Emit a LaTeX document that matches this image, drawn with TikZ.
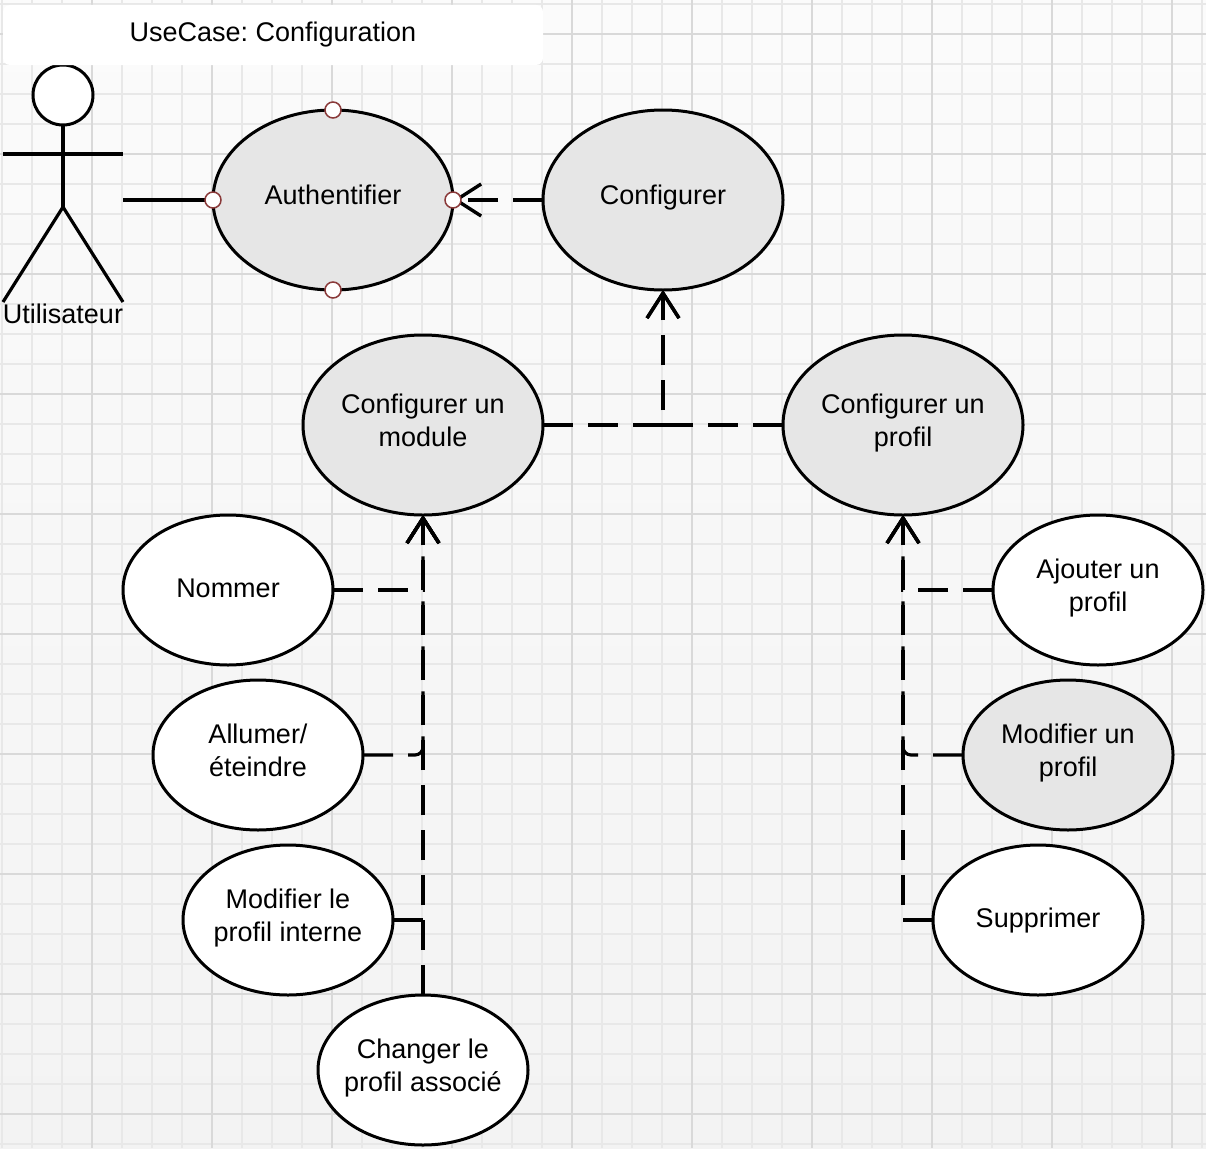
\documentclass[tikz,border=0pt]{standalone}
\usepackage{fontspec}
\setmainfont{Liberation Sans}
\usetikzlibrary{shapes.geometric,arrows.meta}
\frenchspacing
\definecolor{minorgrid}{HTML}{E8E8E8}
\definecolor{majorgrid}{HTML}{D9D9D9}
\definecolor{ucgray}{HTML}{E6E6E6}
\definecolor{portred}{HTML}{8A3A3A}
\definecolor{bgtop}{HTML}{FBFBFB}
\definecolor{bgbottom}{HTML}{F3F3F3}
\newcommand{\uctext}[2][-5pt]{\raisebox{#1}[0pt][0pt]{\makebox[0pt]{\begin{tabular}[c]{@{}c@{}}#2\end{tabular}}}}
\tikzset{
  ucase/.style={ellipse,draw=black,line width=3pt,fill=white,inner sep=0pt,outer sep=0pt,
    minimum width=210pt,minimum height=150pt,font=\fontsize{27}{33}\selectfont},
  ucbig/.style={ucase,minimum width=240pt,minimum height=180pt},
  ucgrayfill/.style={fill=ucgray},
  port/.style={circle,draw=portred,line width=1.5pt,fill=white,inner sep=0pt,outer sep=0pt,minimum size=16pt},
  stroke/.style={draw=black,line width=3.2pt},
  dep/.style={stroke,dash pattern=on 30pt off 15pt,-{Straight Barb[length=25pt,width=32pt,line width=3.4pt]}},
  plainlabel/.style={inner sep=0pt,font=\fontsize{27}{33}\selectfont}
}
\begin{document}
\begin{tikzpicture}[x=1pt,y=-1pt]
\useasboundingbox (0,0) rectangle (1206,1148);
\shade[top color=bgtop,bottom color=bgbottom] (0,0) rectangle (1206,1148);
% grid
\foreach \i in {0,...,40}{
  \pgfmathsetmacro{\gx}{2+30*\i}
  \draw[minorgrid,line width=2pt] (\gx,0) -- (\gx,1148);
}
\foreach \i in {0,...,38}{
  \pgfmathsetmacro{\gy}{3.75+30*\i}
  \draw[minorgrid,line width=2pt] (0,\gy) -- (1206,\gy);
}
\foreach \i in {0,...,9}{
  \pgfmathsetmacro{\gx}{92+120*\i}
  \draw[majorgrid,line width=2pt] (\gx,0) -- (\gx,1148);
}
\foreach \i in {0,...,9}{
  \pgfmathsetmacro{\gy}{33.75+120*\i}
  \draw[majorgrid,line width=2pt] (0,\gy) -- (1206,\gy);
}
% actor
\node[circle,draw=black,line width=3pt,fill=white,inner sep=0pt,outer sep=0pt,minimum size=60pt] (head) at (63,95) {};
\coordinate (armL) at (3,154);
\coordinate (armR) at (123,154);
\coordinate (hip) at (63,207);
\coordinate (legL) at (3,302);
\coordinate (legR) at (123,302);
\coordinate (hand) at (123,200);
\draw[stroke] (head.south) -- (hip);
\draw[stroke] (armL) -- (armR);
\draw[stroke] (legL) -- (hip) -- (legR);
\node[plainlabel] (actorlabel) at (63,314) {Utilisateur};
% title
\node[rectangle,rounded corners=7pt,fill=white,inner sep=0pt,minimum width=540pt,minimum height=60pt,font=\fontsize{27}{33}\selectfont] (title) at (273,35) {\uctext[-6.25pt]{UseCase: Configuration}};
% use cases
\node[ucbig,ucgrayfill] (auth) at (333,200) {\uctext[-3.75pt]{Authentifier}};
\node[ucbig,ucgrayfill] (conf) at (663,200) {\uctext[-3.75pt]{Configurer}};
\node[ucbig,ucgrayfill] (mod) at (423,425) {\uctext[-5pt]{Configurer un\\module}};
\node[ucbig,ucgrayfill] (prof) at (903,425) {\uctext[-5pt]{Configurer un\\profil}};
\node[ucase] (nom) at (228,590) {\uctext[-6.75pt]{Nommer}};
\node[ucase] (all) at (258,755) {\uctext{Allumer/\\éteindre}};
\node[ucase] (modp) at (288,920) {\uctext{Modifier le\\profil interne}};
\node[ucase] (chg) at (423,1070) {\uctext{Changer le\\profil associé}};
\node[ucase] (ajo) at (1098,590) {\uctext{Ajouter un\\profil}};
\node[ucase,ucgrayfill] (mdf) at (1068,755) {\uctext{Modifier un\\profil}};
\node[ucase] (sup) at (1038,920) {\uctext[-6.75pt]{Supprimer}};
% connectors
\draw[stroke] (hand) -- (auth.west);
\draw[dep] (conf.west) -- (auth.east);
\draw[dep] (mod.east) -| (conf.south);
\draw[dep] (prof.west) -| (conf.south);
\draw[dep] (nom.east) -| (mod.south);
\draw[dep,rounded corners=8pt] (all.east) -| (mod.south);
\draw[dep] (modp.east) -| (mod.south);
\draw[dep] (chg.north) -- (mod.south);
\draw[dep] (ajo.west) -| (prof.south);
\draw[dep,rounded corners=8pt] (mdf.west) -| (prof.south);
\draw[dep] (sup.west) -| (prof.south);
% ports
\node[port] (pn) at (auth.north) {};
\node[port] (ps) at (auth.south) {};
\node[port] (pw) at (auth.west) {};
\node[port] (pe) at (auth.east) {};
\end{tikzpicture}
\end{document}
